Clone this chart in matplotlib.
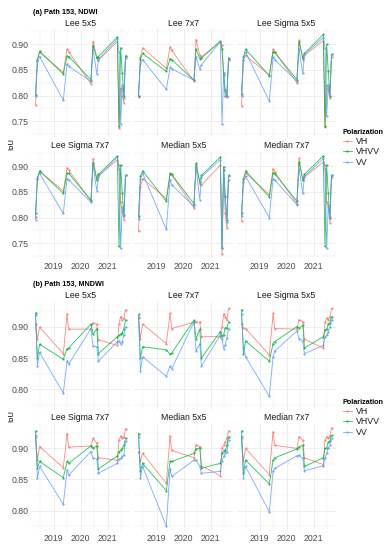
import matplotlib
matplotlib.use('Agg')
import matplotlib.pyplot as plt
import matplotlib.dates as mdates
import numpy as np
import pandas as pd

plt.rcParams['font.family'] = ['Liberation Sans', 'DejaVu Sans']

# ---------------- data ----------------
dates = pd.to_datetime([
    '2018-05-01', '2018-05-27', '2018-06-25', '2019-05-12', '2019-07-02', '2019-07-24',
    '2020-05-19', '2020-06-17', '2020-08-07', '2020-08-29', '2021-05-12', '2021-06-03',
    '2021-06-25', '2021-07-17', '2021-08-08', '2021-08-30'])

methods = ['Lee 5x5', 'Lee 7x7', 'Lee Sigma 5x5', 'Lee Sigma 7x7', 'Median 5x5', 'Median 7x7']
pols = ['VH', 'VHVV', 'VV']
pol_colors = ['#F8766D', '#00BA38', '#619CFF']

# (a) NDWI
ndwi_lee5_vh = [0.782, 0.870, 0.885, 0.845, 0.891, 0.885, 0.823, 0.905, 0.875, 0.869, 0.905, 0.737, 0.815, 0.800, 0.786, 0.877]
ndwi_lee5_vhvv = [0.802, 0.870, 0.886, 0.842, 0.877, 0.876, 0.831, 0.897, 0.873, 0.876, 0.914, 0.741, 0.893, 0.843, 0.800, 0.877]
ndwi_lee5_vv = [0.800, 0.868, 0.876, 0.791, 0.862, 0.857, 0.828, 0.890, 0.842, 0.870, 0.910, 0.885, 0.745, 0.820, 0.795, 0.874]

ndwi_lee7_vh = [0.797, 0.875, 0.893, 0.853, 0.895, 0.888, 0.828, 0.909, 0.879, 0.875, 0.905, 0.898, 0.840, 0.800, 0.797, 0.874]
ndwi_lee7_vhvv = [0.800, 0.872, 0.882, 0.847, 0.872, 0.870, 0.830, 0.890, 0.872, 0.873, 0.906, 0.890, 0.843, 0.810, 0.800, 0.872]
ndwi_lee7_vv = [0.800, 0.862, 0.870, 0.812, 0.855, 0.852, 0.830, 0.875, 0.852, 0.860, 0.905, 0.745, 0.840, 0.800, 0.800, 0.870]

ndwi_ls5_vh = [0.780, 0.870, 0.878, 0.840, 0.890, 0.885, 0.825, 0.908, 0.870, 0.878, 0.907, 0.738, 0.820, 0.810, 0.795, 0.875]
ndwi_ls5_vhvv = [0.804, 0.875, 0.890, 0.839, 0.885, 0.884, 0.831, 0.905, 0.873, 0.882, 0.919, 0.740, 0.900, 0.848, 0.800, 0.880]
ndwi_ls5_vv = [0.800, 0.870, 0.885, 0.789, 0.875, 0.870, 0.828, 0.890, 0.843, 0.880, 0.913, 0.893, 0.760, 0.820, 0.800, 0.880]

ndwi_ls7_vh = [0.796, 0.875, 0.890, 0.852, 0.897, 0.892, 0.832, 0.914, 0.874, 0.882, 0.912, 0.902, 0.830, 0.810, 0.796, 0.882]
ndwi_ls7_vhvv = [0.808, 0.876, 0.891, 0.847, 0.886, 0.886, 0.834, 0.907, 0.874, 0.884, 0.920, 0.744, 0.902, 0.848, 0.805, 0.882]
ndwi_ls7_vv = [0.801, 0.879, 0.886, 0.808, 0.876, 0.873, 0.830, 0.902, 0.852, 0.879, 0.918, 0.895, 0.740, 0.820, 0.803, 0.882]

ndwi_med5_vh = [0.773, 0.860, 0.876, 0.837, 0.885, 0.883, 0.819, 0.902, 0.866, 0.863, 0.902, 0.729, 0.893, 0.808, 0.779, 0.873]
ndwi_med5_vhvv = [0.803, 0.880, 0.891, 0.832, 0.886, 0.884, 0.827, 0.906, 0.869, 0.882, 0.918, 0.740, 0.899, 0.842, 0.796, 0.882]
ndwi_med5_vv = [0.798, 0.875, 0.886, 0.777, 0.874, 0.864, 0.822, 0.899, 0.835, 0.879, 0.913, 0.740, 0.892, 0.840, 0.792, 0.880]

ndwi_med7_vh = [0.794, 0.870, 0.887, 0.845, 0.895, 0.889, 0.827, 0.915, 0.874, 0.879, 0.908, 0.902, 0.830, 0.824, 0.790, 0.878]
ndwi_med7_vhvv = [0.809, 0.875, 0.891, 0.840, 0.887, 0.885, 0.832, 0.908, 0.873, 0.884, 0.920, 0.744, 0.902, 0.848, 0.800, 0.882]
ndwi_med7_vv = [0.803, 0.870, 0.880, 0.800, 0.876, 0.873, 0.825, 0.895, 0.847, 0.880, 0.915, 0.895, 0.740, 0.820, 0.801, 0.882]

# (b) MNDWI
mndwi_lee5_vh = [0.904, 0.881, 0.899, 0.857, 0.920, 0.896, 0.896, 0.906, 0.904, 0.879, 0.870, 0.905, 0.916, 0.910, 0.913, 0.927]
mndwi_lee5_vhvv = [0.922, 0.850, 0.872, 0.848, 0.865, 0.866, 0.904, 0.888, 0.897, 0.857, 0.884, 0.886, 0.888, 0.890, 0.897, 0.911]
mndwi_lee5_vv = [0.918, 0.838, 0.859, 0.794, 0.846, 0.840, 0.897, 0.869, 0.868, 0.845, 0.876, 0.877, 0.873, 0.875, 0.887, 0.900]

mndwi_lee7_vh = [0.914, 0.881, 0.904, 0.873, 0.921, 0.897, 0.907, 0.908, 0.907, 0.884, 0.884, 0.900, 0.920, 0.916, 0.910, 0.929]
mndwi_lee7_vhvv = [0.920, 0.850, 0.868, 0.863, 0.856, 0.858, 0.910, 0.881, 0.896, 0.850, 0.892, 0.885, 0.887, 0.898, 0.898, 0.907]
mndwi_lee7_vv = [0.916, 0.829, 0.852, 0.821, 0.837, 0.833, 0.907, 0.861, 0.873, 0.837, 0.887, 0.880, 0.865, 0.871, 0.882, 0.896]

mndwi_ls5_vh = [0.905, 0.898, 0.897, 0.855, 0.921, 0.897, 0.896, 0.911, 0.908, 0.880, 0.866, 0.907, 0.914, 0.911, 0.915, 0.929]
mndwi_ls5_vhvv = [0.927, 0.857, 0.877, 0.845, 0.873, 0.876, 0.900, 0.898, 0.902, 0.866, 0.884, 0.895, 0.896, 0.904, 0.906, 0.916]
mndwi_ls5_vv = [0.920, 0.866, 0.852, 0.789, 0.852, 0.861, 0.893, 0.881, 0.877, 0.857, 0.870, 0.884, 0.886, 0.892, 0.900, 0.911]

mndwi_ls7_vh = [0.919, 0.881, 0.903, 0.869, 0.924, 0.902, 0.904, 0.916, 0.908, 0.885, 0.881, 0.913, 0.920, 0.916, 0.918, 0.932]
mndwi_ls7_vhvv = [0.928, 0.869, 0.879, 0.853, 0.879, 0.876, 0.904, 0.900, 0.904, 0.867, 0.888, 0.895, 0.897, 0.900, 0.905, 0.916]
mndwi_ls7_vv = [0.921, 0.852, 0.871, 0.810, 0.865, 0.857, 0.895, 0.884, 0.883, 0.860, 0.876, 0.883, 0.884, 0.887, 0.890, 0.912]

mndwi_med5_vh = [0.895, 0.880, 0.892, 0.844, 0.920, 0.897, 0.885, 0.906, 0.903, 0.872, 0.856, 0.901, 0.905, 0.910, 0.916, 0.928]
mndwi_med5_vhvv = [0.924, 0.863, 0.876, 0.832, 0.879, 0.879, 0.892, 0.899, 0.901, 0.868, 0.876, 0.892, 0.896, 0.897, 0.905, 0.919]
mndwi_med5_vv = [0.919, 0.852, 0.871, 0.775, 0.867, 0.855, 0.881, 0.881, 0.871, 0.860, 0.863, 0.880, 0.887, 0.892, 0.895, 0.913]

mndwi_med7_vh = [0.916, 0.880, 0.900, 0.858, 0.927, 0.905, 0.900, 0.919, 0.913, 0.885, 0.874, 0.913, 0.919, 0.916, 0.920, 0.933]
mndwi_med7_vhvv = [0.928, 0.860, 0.881, 0.843, 0.881, 0.885, 0.899, 0.903, 0.905, 0.871, 0.885, 0.900, 0.900, 0.910, 0.912, 0.921]
mndwi_med7_vv = [0.920, 0.853, 0.871, 0.798, 0.863, 0.868, 0.888, 0.889, 0.884, 0.864, 0.872, 0.885, 0.892, 0.900, 0.905, 0.916]

part_titles = ['(a) Path 153, NDWI', '(b) Path 153, MNDWI']
ndwi_yticks = [0.75, 0.80, 0.85, 0.90]
mndwi_yticks = [0.80, 0.85, 0.90]
legend_title = 'Polarization'
y_label = 'IoU'

ndwi = [
    [ndwi_lee5_vh, ndwi_lee5_vhvv, ndwi_lee5_vv],
    [ndwi_lee7_vh, ndwi_lee7_vhvv, ndwi_lee7_vv],
    [ndwi_ls5_vh, ndwi_ls5_vhvv, ndwi_ls5_vv],
    [ndwi_ls7_vh, ndwi_ls7_vhvv, ndwi_ls7_vv],
    [ndwi_med5_vh, ndwi_med5_vhvv, ndwi_med5_vv],
    [ndwi_med7_vh, ndwi_med7_vhvv, ndwi_med7_vv],
]
mndwi = [
    [mndwi_lee5_vh, mndwi_lee5_vhvv, mndwi_lee5_vv],
    [mndwi_lee7_vh, mndwi_lee7_vhvv, mndwi_lee7_vv],
    [mndwi_ls5_vh, mndwi_ls5_vhvv, mndwi_ls5_vv],
    [mndwi_ls7_vh, mndwi_ls7_vhvv, mndwi_ls7_vv],
    [mndwi_med5_vh, mndwi_med5_vhvv, mndwi_med5_vv],
    [mndwi_med7_vh, mndwi_med7_vhvv, mndwi_med7_vv],
]

# ---------------- layout ----------------
W, H = 385, 550
fig = plt.figure(figsize=(W / 100, H / 100), dpi=100)
fig.patch.set_facecolor('white')

def rect(left, top, w, h):
    return [left / W, 1 - (top + h) / H, w / W, h / H]

col_lefts = [31, 134, 237]
panel_w = 99
parts = [
    dict(data=ndwi, title=part_titles[0], title_y=12, rows=[(29, 108), (151, 108)],
         yticks=ndwi_yticks, legend_y=127),
    dict(data=mndwi, title=part_titles[1], title_y=285, rows=[(301, 109), (423, 108)],
         yticks=mndwi_yticks, legend_y=397),
]

xmin_d, xmax_d = dates.min(), dates.max()
span = xmax_d - xmin_d
xlim = (mdates.date2num(xmin_d - span * 0.05), mdates.date2num(xmax_d + span * 0.05))

grid_col = '#EBEBEB'
tick_col = '#4D4D4D'

for part in parts:
    allv = np.concatenate([np.array(s) for m in part['data'] for s in m])
    lo, hi = allv.min(), allv.max()
    pad = (hi - lo) * 0.05
    ylim = (lo - pad, hi + pad)
    handles = None
    for i, method in enumerate(methods):
        r, c = divmod(i, 3)
        top, h = part['rows'][r]
        ax = fig.add_axes(rect(col_lefts[c], top, panel_w, h))
        ax.set_facecolor('white')
        for s in ax.spines.values():
            s.set_visible(False)
        lines = []
        for j, pol in enumerate(pols):
            ln, = ax.plot(dates, part['data'][i][j], color=pol_colors[j], lw=0.6,
                          marker='o', markersize=1.6, markeredgewidth=0, label=pol,
                          alpha=0.85, zorder=3 + j)
            lines.append(ln)
        if handles is None:
            handles = lines
        ax.set_xlim(xlim)
        ax.set_ylim(ylim)
        ax.xaxis.set_major_locator(mdates.YearLocator())
        ax.xaxis.set_major_formatter(mdates.DateFormatter('%Y'))
        ax.xaxis.set_minor_locator(mdates.MonthLocator(bymonth=7))
        ax.set_yticks(part['yticks'])
        ys = part['yticks']
        minors = [ys[0] - 0.025] + [v + 0.025 for v in ys]
        ax.set_yticks(minors, minor=True)
        ax.yaxis.set_major_formatter(matplotlib.ticker.FormatStrFormatter('%.2f'))
        ax.grid(True, which='major', color=grid_col, lw=0.6, zorder=0)
        ax.grid(True, which='minor', color=grid_col, lw=0.3, zorder=0)
        ax.tick_params(which='both', length=0, labelsize=6.3, labelcolor=tick_col, pad=2)
        if c != 0:
            ax.tick_params(axis='y', labelleft=False)
        if r == 0:
            ax.tick_params(axis='x', labelbottom=False)
        fig.text((col_lefts[c] + panel_w / 2) / W, 1 - (top - 5) / H, method,
                 ha='center', va='center', fontsize=6.3, color='#1A1A1A')
    # part title
    fig.text(33 / W, 1 - part['title_y'] / H, part['title'], ha='left', va='center',
             fontsize=5.2, fontweight='bold', color='black')
    # y label
    ytop = part['rows'][0][0]
    ybot = part['rows'][1][0] + part['rows'][1][1]
    fig.text(12 / W, 1 - (ytop + ybot) / 2 / H, y_label, rotation=90, ha='center',
             va='center', fontsize=5.5, color='black')
    leg = fig.legend(handles=handles, labels=pols, title=legend_title,
                     loc='upper left', bbox_to_anchor=(341 / W, 1 - part['legend_y'] / H),
                     frameon=False, fontsize=6.3, title_fontsize=5.2, handlelength=1.0,
                     handletextpad=0.5, labelspacing=0.15, borderaxespad=0,
                     borderpad=0.2, alignment='left')
    leg.get_title().set_fontweight('bold')
    for t in leg.get_texts():
        t.set_color('#1A1A1A')

fig.savefig('out.png', dpi=100, facecolor='white')
